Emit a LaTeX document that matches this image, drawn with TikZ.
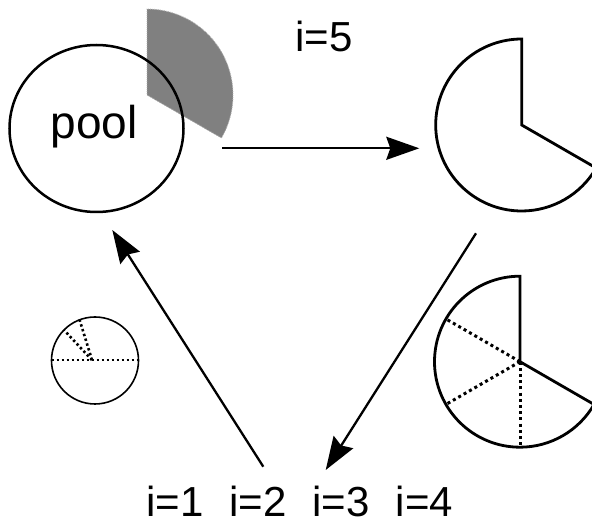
\documentclass[tikz,border=0pt]{standalone}
\usepackage{fontspec}
\setmainfont{Liberation Sans}
\usetikzlibrary{arrows.meta}
\begin{document}
\begin{tikzpicture}[x=1pt,y=1pt,
  lbl/.style={anchor=base west,inner sep=0pt,font=\fontsize{42}{50}\selectfont},
  conn/.style={line width=2.3pt,-{Stealth[length=33pt,width=23pt,inset=4pt]}},
  outline/.style={line width=2.8pt,line join=miter},
  dots/.style={line width=3pt,dash pattern=on 3pt off 3.2pt},
  smalldots/.style={line width=2.6pt,dash pattern=on 2.4pt off 2.6pt}]
\useasboundingbox (0,0) rectangle (592,525);
% gray sector
\fill[fill=black!50,draw=gray!60,line width=0.8pt,dash pattern=on 1pt off 1pt]
  (147,430) -- ++(-30:86) arc[start angle=-30,end angle=90,radius=86] -- cycle;
% pool
\draw[line width=2.5pt] (96.5,396.5) ellipse[x radius=87,y radius=83.5];
\node[lbl,font=\fontsize{46}{54}\selectfont] (pool) at (50.5,386.7) {pool};
% right pie
\draw[outline] (521.7,400) -- ++(90:86) arc[start angle=90,end angle=330,radius=86] -- cycle;
% bottom pie
\draw[outline] (520,163.3) -- ++(90:85.5) arc[start angle=90,end angle=330,radius=85.5] -- cycle;
\draw[dots] (520,163.3) -- ++(150:85.5);
\draw[dots] (520,163.3) -- ++(210:85.5);
\draw[dots] (520,163.3) -- ++(270:85.5);
% small circle
\draw[line width=1.6pt] (95,164.5) circle[radius=43.5];
\draw[smalldots] (51.5,165) -- (138.5,165);
\draw[smalldots] (92,165) -- (64,195);
\draw[smalldots] (92,165) -- (79.3,206);
% labels
\node[lbl] (i5) at (295,473.3) {i=5};
\node[lbl] (iall) at (146,9) {i=1\hspace{26pt}i=2\hspace{26pt}i=3\hspace{26pt}i=4};
% arrows
\coordinate (a1s) at (222.3,376.7);
\coordinate (a1e) at (419.3,376.7);
\coordinate (a2s) at (476,291.7);
\coordinate (a2e) at (325.7,55);
\coordinate (a3s) at (263.3,58.3);
\coordinate (a3e) at (112.3,295);
\draw[conn] (a1s) -- (a1e);
\draw[conn] (a2s) -- (a2e);
\draw[conn] (a3s) -- (a3e);
\end{tikzpicture}
\end{document}
